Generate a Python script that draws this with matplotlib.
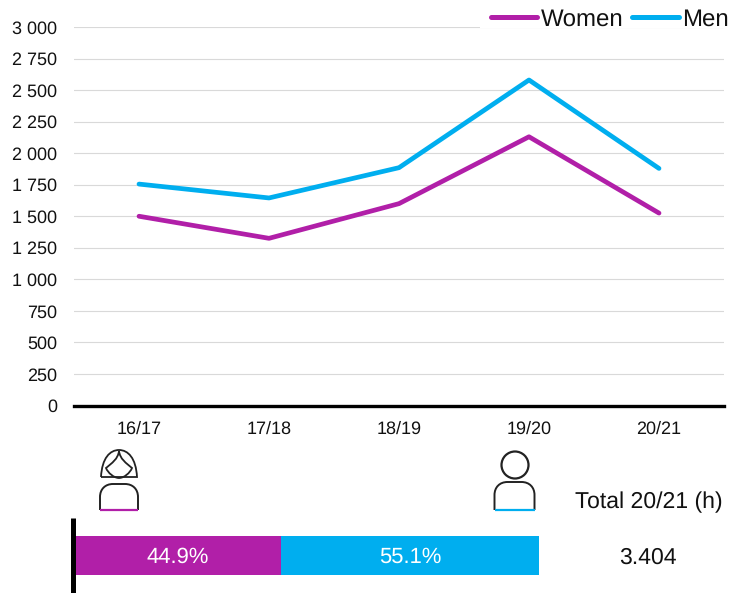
import matplotlib
matplotlib.use("Agg")
from matplotlib import pyplot as plt
from matplotlib.patches import Circle, Rectangle, PathPatch
from matplotlib.path import Path

plt.rcParams['font.family'] = ['Liberation Sans', 'DejaVu Sans']
plt.rcParams['text.hinting'] = 'no_hinting'
plt.rcParams['text.hinting_factor'] = 1

seasons = ['16/17', '17/18', '18/19', '19/20', '20/21']
women = [1500, 1325, 1600, 2130, 1525]
men = [1755, 1645, 1885, 2580, 1879]
yticks = [0, 250, 500, 750, 1000, 1250, 1500, 1750, 2000, 2250, 2500, 2750, 3000]
share_drawn = [44.4, 55.6]
share_labels = ['44.9%', '55.1%']
total_label = '3.404'

PURPLE = '#B11FA8'
BLUE = '#00AEEF'
W, H = 733, 593


def ax_px(x0, y0, x1, y1):
    # axes from pixel box, y counted from top of the image
    return fig.add_axes([x0/W, 1-y1/H, (x1-x0)/W, (y1-y0)/H])


fig = plt.figure(figsize=(W/100, H/100), dpi=100)

# line chart
ax = ax_px(74, 27, 724, 405.5)
ax.set_xlim(-0.5, 4.5)
ax.set_ylim(0, 3000)
ax.set_yticks(yticks)
ax.set_yticklabels([f'{v:,}'.replace(',', ' ') for v in yticks], fontsize=13)
ax.set_xticks(range(len(seasons)))
ax.set_xticklabels(seasons, fontsize=13)
ax.tick_params(axis='both', length=0, colors='#111111')
ax.tick_params(axis='x', pad=11)
ax.tick_params(axis='y', pad=12)
ax.grid(axis='y', color='#D9D9D9', lw=0.8)
ax.set_axisbelow(True)
for s in ['top', 'right', 'left']:
    ax.spines[s].set_visible(False)
ax.spines['bottom'].set_linewidth(2.4)
ax.spines['bottom'].set_color('black')
ax.plot(range(5), women, color=PURPLE, lw=3.4, solid_joinstyle='round', solid_capstyle='round')
ax.plot(range(5), men, color=BLUE, lw=3.4, solid_joinstyle='round', solid_capstyle='round')

# share bar
bx = ax_px(75, 536, 539, 575)
bx.set_xlim(0, sum(share_drawn))
bx.set_ylim(0, 1)
bx.axis('off')
bx.barh(0.5, share_drawn[0], height=1, color=PURPLE)
bx.barh(0.5, share_drawn[1], left=share_drawn[0], height=1, color=BLUE)
bx.text(share_drawn[0]/2, 0.45, share_labels[0], color='white', fontsize=15.8, ha='center', va='center')
bx.text(share_drawn[0]+share_drawn[1]/2, 0.45, share_labels[1], color='white', fontsize=15.8, ha='center', va='center')

# overlay in pixel coordinates for legend, icons, text
ov = fig.add_axes([0, 0, 1, 1], zorder=5)
ov.set_xlim(0, W)
ov.set_ylim(H, 0)
ov.axis('off')
ov.patch.set_alpha(0)

ov.add_patch(Rectangle((480, 0), 253, 27.5, fc='white', ec='none'))
ov.plot([491, 537], [17, 17], color=PURPLE, lw=3.6, solid_capstyle='round')
ov.text(541, 19.5, 'Women', fontsize=17, va='center', color='#111111')
ov.plot([632, 679], [17, 17], color=BLUE, lw=3.6, solid_capstyle='round')
ov.text(682, 19.5, 'Men', fontsize=17, va='center', color='#111111')

ov.plot([73, 73], [518, 593], color='black', lw=3.6, solid_capstyle='butt')
ov.text(649, 502, 'Total 20/21 (h)', fontsize=16.8, ha='center', va='center', color='#111111')
ov.text(648, 557.5, total_label, fontsize=16.8, ha='center', va='center', color='#111111')


def body(x0, x1, y0, y1, r, col):
    # rounded shoulders, open bottom edge in series colour
    c = Path.CURVE4
    verts = [(x0, y1), (x0, y0+r), (x0, y0+r*0.4), (x0+r*0.4, y0), (x0+r, y0),
             (x1-r, y0), (x1-r*0.4, y0), (x1, y0+r*0.4), (x1, y0+r), (x1, y1)]
    codes = [Path.MOVETO, Path.LINETO, c, c, c, Path.LINETO, c, c, c, Path.LINETO]
    ov.add_patch(PathPatch(Path(verts, codes), fc='none', ec='#222222', lw=1.4))
    ov.plot([x0, x1], [y1, y1], color=col, lw=1.6, solid_capstyle='butt')


# man icon
ov.add_patch(Circle((515, 465), 13.5, fc='none', ec='#222222', lw=1.6))
body(494.5, 534.5, 482, 510, 13, BLUE)

# woman icon
body(100, 138, 484, 510, 13, PURPLE)
c = Path.CURVE4
hair = [(101, 477), (102, 458), (110, 450), (119, 450), (128, 450), (136, 458), (137, 477), (101, 477)]
ov.add_patch(PathPatch(Path(hair, [Path.MOVETO, c, c, c, c, c, c, Path.LINETO]), fc='none', ec='#222222', lw=1.3))
face = [(119, 451), (118, 459), (112, 463), (106, 468), (108, 473), (114, 478), (119, 478),
        (124, 478), (130, 473), (132, 468), (126, 463), (120, 459), (119, 451)]
ov.add_patch(PathPatch(Path(face, [Path.MOVETO] + [c]*12), fc='none', ec='#222222', lw=1.3))

fig.savefig('out.png', dpi=100)
